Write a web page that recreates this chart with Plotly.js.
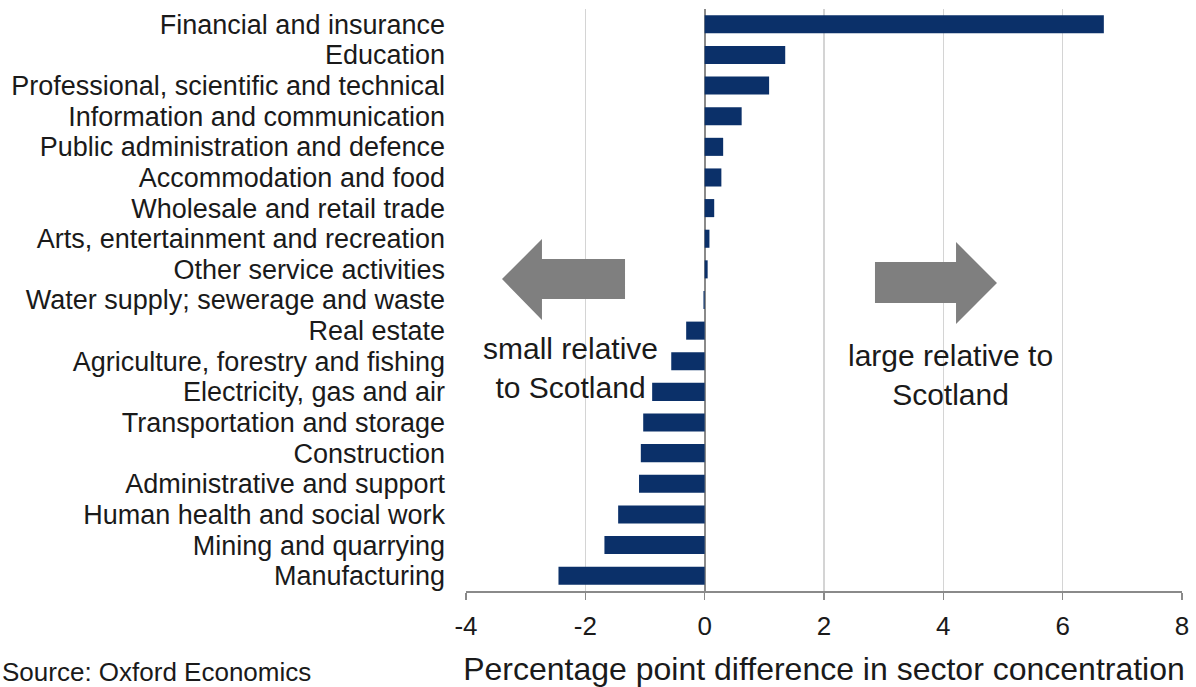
<!DOCTYPE html>
<html>
<head>
<meta charset="utf-8">
<script src="https://cdn.plot.ly/plotly-3.0.1.min.js"></script>
<style>html,body{margin:0;padding:0;background:#fff;}#chart{width:1196px;height:687px;}</style>
</head>
<body>
<div id="chart"></div>
<script>
const sectors = [
  "Financial and insurance",
  "Education",
  "Professional, scientific and technical",
  "Information and communication",
  "Public administration and defence",
  "Accommodation and food",
  "Wholesale and retail trade",
  "Arts, entertainment and recreation",
  "Other service activities",
  "Water supply; sewerage and waste",
  "Real estate",
  "Agriculture, forestry and fishing",
  "Electricity, gas and air",
  "Transportation and storage",
  "Construction",
  "Administrative and support",
  "Human health and social work",
  "Mining and quarrying",
  "Manufacturing"
];
const differences = [6.69, 1.35, 1.08, 0.62, 0.31, 0.28, 0.16, 0.08, 0.05, -0.02,
  -0.31, -0.56, -0.88, -1.03, -1.07, -1.10, -1.45, -1.68, -2.45];
const xTicks = [-4, -2, 0, 2, 4, 6, 8];
const axisTitle = "Percentage point difference in sector concentration";
const sourceNote = "Source: Oxford Economics";
const leftNote = "small relative<br>to Scotland";
const rightNote = "large relative to<br>Scotland";

const W = 1196, H = 687;
const L = 466, R = 1182, T = 8.7, B = 591.3;
const px = x => (x - L) / (R - L);
const py = y => (B - y) / (B - T);
function pathFrom(pts) {
  return pts.map((p, i) => (i ? 'L' : 'M') + px(p[0]).toFixed(4) + ',' + py(p[1]).toFixed(4)).join(' ') + ' Z';
}
const leftArrow = pathFrom([[502,279],[542,239],[542,259],[625,259],[625,299],[542,299],[542,320]]);
const rightArrow = pathFrom([[875,262],[956,262],[956,242],[997,283],[956,324],[956,303],[875,303]]);

const font = "Liberation Sans, Arial, sans-serif";

const trace = {
  type: 'bar',
  orientation: 'h',
  x: differences,
  y: sectors,
  marker: {color: '#0b3069'},
  hoverinfo: 'x+y'
};

const layout = {
  width: W, height: H,
  margin: {l: L, r: W - R, t: T, b: H - B, pad: 0},
  paper_bgcolor: '#fff', plot_bgcolor: '#fff',
  showlegend: false,
  bargap: 0.41,
  font: {family: font, color: '#1a1a1a'},
  xaxis: {
    range: [-4, 8],
    tickmode: 'array',
    tickvals: xTicks,
    ticktext: xTicks.map(String),
    showgrid: true, gridcolor: '#d4d4d4', gridwidth: 1.2,
    zeroline: true, zerolinecolor: '#8a8a8a', zerolinewidth: 2,
    showline: true, linecolor: '#8a8a8a', linewidth: 1.5,
    ticks: 'outside', ticklen: 7, tickcolor: '#8a8a8a', tickwidth: 1.5,
    ticklabelstandoff: 4,
    tickfont: {size: 26, color: '#1a1a1a', family: font},
    title: {text: axisTitle, font: {size: 32, color: '#1a1a1a', family: font}, standoff: 18},
    fixedrange: true
  },
  yaxis: {
    type: 'category',
    categoryorder: 'array',
    categoryarray: sectors,
    tickmode: 'array',
    tickvals: sectors,
    ticktext: sectors,
    autorange: 'reversed',
    showgrid: false, zeroline: false, showline: false,
    ticks: '',
    ticklabelstandoff: 20,
    tickfont: {size: 27, color: '#1a1a1a', family: font},
    fixedrange: true
  },
  shapes: [
    {type: 'path', xref: 'paper', yref: 'paper', path: leftArrow, fillcolor: '#7f7f7f', line: {width: 0}},
    {type: 'path', xref: 'paper', yref: 'paper', path: rightArrow, fillcolor: '#7f7f7f', line: {width: 0}}
  ],
  annotations: [
    {xref: 'paper', yref: 'paper', x: px(570), y: py(368), text: leftNote, showarrow: false,
     font: {size: 30, color: '#1a1a1a', family: font}, align: 'center', xanchor: 'center', yanchor: 'middle'},
    {xref: 'paper', yref: 'paper', x: px(950), y: py(375), text: rightNote, showarrow: false,
     font: {size: 30, color: '#1a1a1a', family: font}, align: 'center', xanchor: 'center', yanchor: 'middle'},
    {xref: 'paper', yref: 'paper', x: px(0), y: py(672), text: sourceNote, showarrow: false,
     font: {size: 26, color: '#1a1a1a', family: font}, xanchor: 'left', yanchor: 'middle'}
  ]
};

Plotly.newPlot('chart', [trace], layout, {displayModeBar: false, staticPlot: true});
</script>
</body>
</html>
